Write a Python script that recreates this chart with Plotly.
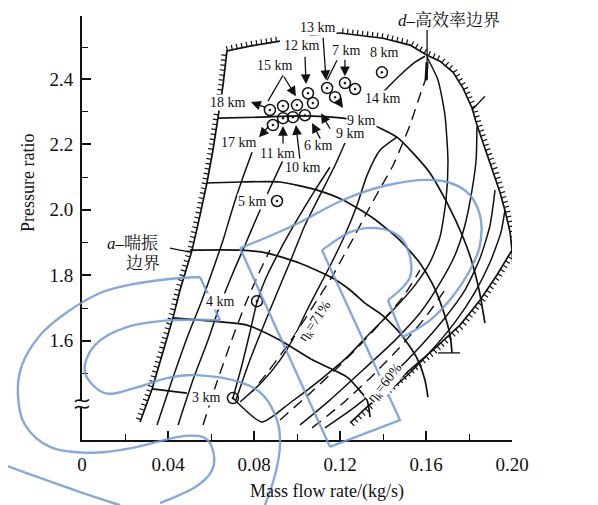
import numpy as np
import plotly.graph_objects as go

# ---------------- axes ----------------
X_RANGE = [0.0, 0.20]
Y_RANGE = [1.297, 2.592]
X_TICKS = [0, 0.04, 0.08, 0.12, 0.16, 0.20]
X_TICKTEXT = ["0", "0.04", "0.08", "0.12", "0.16", "0.20"]
X_MINOR = [0.02, 0.06, 0.10, 0.14, 0.18]
Y_TICKS = [1.6, 1.8, 2.0, 2.2, 2.4, 2.592]
Y_TICKTEXT = ["1.6", "1.8", "2.0", "2.2", "2.4", "2.5"]
Y_MINOR = [1.5, 1.7, 1.9, 2.1, 2.3, 2.496]
AXIS_BREAK_Y = [1.417, 1.397]

# ---------------- boundaries (mass flow kg/s, pressure ratio) ----------------
surge_x = [0.0270, 0.0326, 0.0386, 0.0423, 0.0456, 0.0512, 0.0549, 0.0581, 0.0609, 0.0633, 0.0656, 0.0674, 0.0781, 0.0921]
surge_y = [1.352, 1.453, 1.587, 1.670, 1.755, 1.877, 1.984, 2.082, 2.182, 2.280, 2.381, 2.485, 2.500, 2.515]
top_x = [0.1060, 0.1200]
top_y = [2.533, 2.540]
maxb_x = [0.1200, 0.1400, 0.1526, 0.1605, 0.1665, 0.1726, 0.1772, 0.1814, 0.1837, 0.1874, 0.1912, 0.1944, 0.1967, 0.1991, 0.2000]
maxb_y = [2.540, 2.524, 2.503, 2.472, 2.454, 2.420, 2.372, 2.311, 2.259, 2.188, 2.121, 2.054, 1.999, 1.932, 1.877]
choke_x = [0.2000, 0.1930, 0.1851, 0.1758, 0.1633, 0.1526, 0.1419, 0.1326, 0.1247]
choke_y = [1.877, 1.801, 1.724, 1.648, 1.572, 1.511, 1.450, 1.398, 1.349]

# ---------------- speed lines ----------------
s1_x = [0.0633, 0.0828, 0.1014, 0.1214, 0.1353, 0.1465, 0.1540, 0.1619, 0.1698, 0.1772, 0.1814, 0.1847, 0.1874]
s1_y = [2.280, 2.283, 2.287, 2.280, 2.259, 2.222, 2.173, 2.112, 2.021, 1.917, 1.840, 1.755, 1.654]
s2_x = [0.0581, 0.0735, 0.0921, 0.1093, 0.1214, 0.1353, 0.1479, 0.1572, 0.1633, 0.1679, 0.1712, 0.1721]
s2_y = [2.082, 2.085, 2.085, 2.060, 2.030, 1.975, 1.907, 1.837, 1.770, 1.694, 1.617, 1.563]
s3_x = [0.0502, 0.0735, 0.0860, 0.1014, 0.1167, 0.1247, 0.1316, 0.1395, 0.1479, 0.1558, 0.1595, 0.1609]
s3_y = [1.877, 1.877, 1.868, 1.837, 1.791, 1.755, 1.715, 1.679, 1.624, 1.547, 1.480, 1.428]
s4_x = [0.0423, 0.0549, 0.0767, 0.0921, 0.1074, 0.1233, 0.1302, 0.1326, 0.1340]
s4_y = [1.670, 1.663, 1.648, 1.602, 1.541, 1.489, 1.440, 1.419, 1.367]
s5_x = [0.0326, 0.0488]
s5_y = [1.453, 1.440]

# ---------------- cross lines (solid) ----------------
ld1_x = [0.0349, 0.0419, 0.0493, 0.0558, 0.0605, 0.0656, 0.0698, 0.0744, 0.0791]
ld1_y = [1.343, 1.480, 1.617, 1.724, 1.810, 1.907, 1.999, 2.091, 2.176]
ld2_x = [0.0447, 0.0516, 0.0586, 0.0642, 0.0698, 0.0758, 0.0814, 0.0874, 0.0935]
ld2_y = [1.343, 1.480, 1.602, 1.709, 1.801, 1.892, 1.978, 2.066, 2.152]
lda_x = [0.0702, 0.0744, 0.0781, 0.0814, 0.0851, 0.0921, 0.1000, 0.1084, 0.1153]
lda_y = [1.425, 1.526, 1.626, 1.718, 1.785, 1.877, 1.969, 2.060, 2.130]
ldb_x = [0.0716, 0.0781, 0.0842, 0.0907, 0.0967, 0.1037, 0.1107, 0.1177, 0.1223]
ldb_y = [1.419, 1.541, 1.642, 1.746, 1.840, 1.953, 2.045, 2.136, 2.204]
ldc_x = [0.0735, 0.0837, 0.0921, 0.0991, 0.1047, 0.1107, 0.1167, 0.1223, 0.1279, 0.1326, 0.1386, 0.1465]
ldc_y = [1.413, 1.474, 1.541, 1.617, 1.694, 1.770, 1.846, 1.923, 2.014, 2.106, 2.182, 2.222]
l14_x = [0.1386, 0.1479, 0.1549, 0.1595]
l14_y = [2.350, 2.411, 2.451, 2.469]
rd1_x = [0.0702, 0.0837, 0.0967, 0.1107, 0.1233, 0.1340, 0.1447, 0.1549, 0.1619, 0.1665, 0.1693, 0.1702, 0.1688, 0.1656, 0.1605]
rd1_y = [1.425, 1.352, 1.410, 1.480, 1.550, 1.624, 1.694, 1.770, 1.840, 1.917, 2.030, 2.152, 2.289, 2.396, 2.466]
rd2_x = [0.1014, 0.1153, 0.1307, 0.1447, 0.1572, 0.1665, 0.1735, 0.1781, 0.1814, 0.1833, 0.1837]
rd2_y = [1.343, 1.419, 1.511, 1.596, 1.685, 1.776, 1.862, 1.953, 2.060, 2.152, 2.253]
rd3_x = [0.1130, 0.1270, 0.1409, 0.1549, 0.1679, 0.1781, 0.1851, 0.1898, 0.1921]
rd3_y = [1.334, 1.398, 1.474, 1.566, 1.663, 1.755, 1.852, 1.953, 2.060]
rd4_x = [0.1349, 0.1488, 0.1619, 0.1735, 0.1828, 0.1898, 0.1949, 0.1967]
rd4_y = [1.407, 1.480, 1.566, 1.657, 1.749, 1.840, 1.932, 1.999]

# ---------------- dashed lines ----------------
hieff_x = [0.1605, 0.1572, 0.1526, 0.1488, 0.1447, 0.1395, 0.1326, 0.1270, 0.1214, 0.1153, 0.1084, 0.1014, 0.0940, 0.0865, 0.0791]
hieff_y = [2.411, 2.350, 2.259, 2.198, 2.136, 2.075, 1.993, 1.923, 1.856, 1.785, 1.715, 1.642, 1.572, 1.505, 1.444]
ld3_x = [0.0563, 0.0623, 0.0688, 0.0758, 0.0819, 0.0874]
ld3_y = [1.343, 1.465, 1.587, 1.709, 1.801, 1.877]
dr1_x = [0.0921, 0.1051, 0.1177, 0.1293, 0.1400, 0.1493, 0.1572]
dr1_y = [1.358, 1.434, 1.511, 1.587, 1.663, 1.734, 1.816]
dr2_x = [0.1070, 0.1209, 0.1349, 0.1479, 0.1595, 0.1688]
dr2_y = [1.334, 1.407, 1.492, 1.581, 1.670, 1.755]
hieff_top_x = [0.1605, 0.1600]
hieff_top_y = [2.451, 2.396]

# ---------------- operating points ----------------
pt_x = [0.0874, 0.0935, 0.1000, 0.1074, 0.1051, 0.0888, 0.0935, 0.0981, 0.1037, 0.1140, 0.1177, 0.1223, 0.1270, 0.1395, 0.0907, 0.0814, 0.0702]
pt_y = [2.305, 2.317, 2.320, 2.326, 2.356, 2.259, 2.280, 2.283, 2.289, 2.372, 2.344, 2.387, 2.369, 2.420, 2.027, 1.721, 1.425]

# altitude labels
alt_text = ["13 km", "12 km", "7 km", "8 km", "15 km", "18 km", "14 km", "9 km", "9 km", "17 km", "6 km", "11 km", "10 km", "5 km", "4 km", "3 km"]
alt_x = [0.1098, 0.1023, 0.1228, 0.1409, 0.0898, 0.0679, 0.1400, 0.1298, 0.1251, 0.0730, 0.1098, 0.0907, 0.1028, 0.0791, 0.0642, 0.0577]
alt_y = [2.558, 2.503, 2.488, 2.481, 2.442, 2.329, 2.341, 2.274, 2.234, 2.207, 2.198, 2.173, 2.130, 2.024, 1.721, 1.428]

# arrows: head x, head y, tail x, tail y
arr_hx = [0.1042, 0.1135, 0.1223, 0.0995, 0.0786, 0.0823, 0.0935, 0.0995, 0.1070, 0.1112, 0.1214]
arr_hy = [2.384, 2.396, 2.408, 2.347, 2.329, 2.222, 2.256, 2.259, 2.265, 2.295, 2.311]
arr_tx = [0.1037, 0.1121, 0.1223, 0.0935, 0.0860, 0.0874, 0.0935, 0.1014, 0.1112, 0.1158, 0.1186]
arr_ty = [2.472, 2.530, 2.463, 2.411, 2.311, 2.259, 2.198, 2.152, 2.213, 2.243, 2.338]

# plain leader lines: x0, y0, x1, y1
lead_x0 = [0.0935, 0.1186, 0.0409, 0.1814, 0.1656, 0.1605, 0.2000]
lead_y0 = [2.411, 2.457, 1.883, 2.305, 1.563, 2.549, 1.877]
lead_x1 = [0.0865, 0.1140, 0.0502, 0.1874, 0.1758, 0.1605, 0.2005]
lead_y1 = [2.332, 2.396, 1.871, 2.347, 1.563, 2.396, 1.792]

# boundary / region labels
reg_text = ["<i>d</i>–高效率边界", "<i>b</i>–最大转速", "边界", "<i>N</i><sub>max</sub>–最大", "转速", "<i>c</i>–堵塞边界", "<i>a</i>–喘振", "边界"]
reg_x = [0.1707, 0.2023, 0.2023, 0.2177, 0.2177, 0.2028, 0.0233, 0.0284]
reg_y = [2.579, 2.405, 2.344, 1.740, 1.657, 1.556, 1.898, 1.837]

eff_text = ["η<sub>k</sub>=71%", "η<sub>k</sub>=60%"]
eff_x = [0.1084, 0.1409]
eff_y = [1.660, 1.471]
eff_angle = [-55, -51]

# watermark ribbons (in chart units)
wm_a_x = [0.1153, 0.0735]
wm_a_y = [1.276, 1.883]
wm_b_x = [0.0735, 0.0874, 0.1014, 0.1214, 0.1419, 0.1633, 0.1781, 0.1851, 0.1851, 0.1805, 0.1726, 0.1619, 0.1493]
wm_b_y = [1.883, 1.920, 1.962, 2.030, 2.075, 2.091, 2.060, 1.984, 1.892, 1.816, 1.737, 1.663, 1.611]
wm_c_x = [0.1493, 0.1423]
wm_c_y = [1.611, 1.724]
wm_d_x = [0.1423, 0.1479, 0.1526, 0.1526, 0.1479, 0.1372, 0.1247, 0.1116]
wm_d_y = [1.724, 1.755, 1.795, 1.856, 1.917, 1.944, 1.932, 1.877]
wm_e_x = [0.1116, 0.1479, 0.1153]
wm_e_y = [1.877, 1.358, 1.276]
wm_g_x = [0.0549, 0.0395, 0.0237, 0.0084, -0.0070, -0.0195, -0.0279, -0.0298, -0.0265, -0.0149, 0.0037, 0.0237, 0.0442, 0.0563, 0.0609, 0.0605, 0.0526, 0.0363]
wm_g_y = [1.795, 1.788, 1.773, 1.746, 1.687, 1.617, 1.526, 1.434, 1.343, 1.276, 1.258, 1.273, 1.306, 1.306, 1.266, 1.205, 1.153, 1.104]
wm_h_x = [0.0549, 0.0642]
wm_h_y = [1.795, 1.663]
wm_i_x = [0.0642, 0.0423, 0.0209, 0.0060, 0.0014, 0.0107, 0.0247, 0.0395, 0.0535, 0.0735, 0.0842, 0.0907, 0.0921, 0.0898, 0.0851]
wm_i_y = [1.663, 1.663, 1.642, 1.587, 1.504, 1.440, 1.456, 1.486, 1.495, 1.474, 1.434, 1.358, 1.282, 1.190, 1.098]
wm_j_x = [-0.0381, -0.0195, -0.0009, 0.0177]
wm_j_y = [1.226, 1.181, 1.138, 1.098]

# ---------------- figure geometry ----------------
W, H = 598, 505
BODY = 8                      # default page margin of the html body
PLOT_L, PLOT_R, PLOT_T, PLOT_B = 82, 512, 16, 440   # wanted on-screen plot box
PW, PH = PLOT_R - PLOT_L, PLOT_B - PLOT_T
ML, MT = PLOT_L - BODY, PLOT_T - BODY
MR, MB = W - ML - PW, H - MT - PH
SX = PW / (X_RANGE[1] - X_RANGE[0])
SY = PH / (Y_RANGE[1] - Y_RANGE[0])

SERIF = "Liberation Serif, Times New Roman, serif"
CJK = "Liberation Serif, Noto Serif CJK SC, Noto Sans CJK SC, serif"


def px_paper(sx, sy):
    return (sx - PLOT_L) / PW, (PLOT_B - sy) / PH


def hatch(xs, ys, step=5.0, length=5.0):
    px = np.array(xs, dtype=float) * SX
    py = -np.array(ys, dtype=float) * SY
    dxs, dys = np.diff(px), np.diff(py)
    seg = np.hypot(dxs, dys)
    s = np.concatenate([[0.0], np.cumsum(seg)])
    t = np.arange(step / 2, s[-1], step)
    qx, qy = np.interp(t, s, px), np.interp(t, s, py)
    idx = np.clip(np.searchsorted(s, t) - 1, 0, len(seg) - 1)
    tx, ty = dxs[idx] / seg[idx], dys[idx] / seg[idx]
    nx, ny = ty, -tx
    hx, hy = [], []
    for a, b, c, d in zip(qx, qy, nx, ny):
        hx += [float(a / SX), float((a + c * length) / SX), None]
        hy += [float(-b / SY), float(-(b + d * length) / SY), None]
    return hx, hy


def to_paper(xs, ys):
    return ([(x - X_RANGE[0]) / (X_RANGE[1] - X_RANGE[0]) for x in xs],
            [(y - Y_RANGE[0]) / (Y_RANGE[1] - Y_RANGE[0]) for y in ys])


def smooth_path(xs, ys):
    pts = list(zip(xs, ys))
    n = len(pts)
    d = f"M{pts[0][0]:.4f},{pts[0][1]:.4f}"
    if n == 2:
        return d + f" L{pts[1][0]:.4f},{pts[1][1]:.4f}"
    for i in range(n - 1):
        p0 = pts[i - 1] if i > 0 else pts[i]
        p1, p2 = pts[i], pts[i + 1]
        p3 = pts[i + 2] if i + 2 < n else pts[i + 1]
        c1 = (p1[0] + (p2[0] - p0[0]) / 6, p1[1] + (p2[1] - p0[1]) / 6)
        c2 = (p2[0] - (p3[0] - p1[0]) / 6, p2[1] - (p3[1] - p1[1]) / 6)
        d += f" C{c1[0]:.4f},{c1[1]:.4f} {c2[0]:.4f},{c2[1]:.4f} {p2[0]:.4f},{p2[1]:.4f}"
    return d


fig = go.Figure()
BLACK = "#111111"


def add_line(xs, ys, width=1.6, dash=None, shape="spline"):
    fig.add_trace(go.Scatter(x=xs, y=ys, mode="lines", hoverinfo="skip", showlegend=False,
                             line=dict(color=BLACK, width=width, dash=dash, shape=shape, smoothing=0.6)))


# boundaries with hatching
for bx, by in [(surge_x, surge_y), (maxb_x, maxb_y), (choke_x, choke_y)]:
    add_line(bx, by, width=1.7, shape="linear")
    hx, hy = hatch(bx, by)
    fig.add_trace(go.Scatter(x=hx, y=hy, mode="lines", hoverinfo="skip", showlegend=False,
                             connectgaps=False, line=dict(color=BLACK, width=1.2)))
add_line(top_x, top_y, width=1.5, shape="linear")

# speed lines
for sx_, sy_ in [(s1_x, s1_y), (s2_x, s2_y), (s3_x, s3_y), (s4_x, s4_y), (s5_x, s5_y)]:
    add_line(sx_, sy_, width=1.7)

# cross lines
for cx, cy in [(ld1_x, ld1_y), (ld2_x, ld2_y), (lda_x, lda_y), (ldb_x, ldb_y), (ldc_x, ldc_y),
               (l14_x, l14_y), (rd1_x, rd1_y), (rd2_x, rd2_y), (rd3_x, rd3_y), (rd4_x, rd4_y)]:
    add_line(cx, cy, width=1.5)

for cx, cy in [(hieff_x, hieff_y), (ld3_x, ld3_y), (dr1_x, dr1_y), (dr2_x, dr2_y)]:
    add_line(cx, cy, width=1.4, dash="11px,7px")
add_line(hieff_top_x, hieff_top_y, width=3.0, shape="linear")

# leader lines
lx, ly = [], []
for a, b, c, d in zip(lead_x0, lead_y0, lead_x1, lead_y1):
    lx += [a, c, None]
    ly += [b, d, None]
fig.add_trace(go.Scatter(x=lx, y=ly, mode="lines", hoverinfo="skip", showlegend=False,
                         line=dict(color=BLACK, width=1.3)))

# operating points
fig.add_trace(go.Scatter(x=pt_x, y=pt_y, mode="markers", hoverinfo="skip", showlegend=False,
                         marker=dict(symbol="circle-open-dot", size=11, color=BLACK,
                                     line=dict(color=BLACK, width=1.5))))

annotations = []
for t, x, y in zip(alt_text, alt_x, alt_y):
    annotations.append(dict(x=x, y=y, xref="x", yref="y", text=t, showarrow=False,
                            font=dict(family=SERIF, size=14, color=BLACK), bgcolor="white", borderpad=0))
for hx_, hy_, tx_, ty_ in zip(arr_hx, arr_hy, arr_tx, arr_ty):
    annotations.append(dict(x=hx_, y=hy_, ax=tx_, ay=ty_, xref="x", yref="y", axref="x", ayref="y",
                            text="", showarrow=True, arrowhead=2, arrowsize=1.5, arrowwidth=1.3,
                            arrowcolor=BLACK))
for t, x, y in zip(reg_text, reg_x, reg_y):
    annotations.append(dict(x=x, y=y, xref="x", yref="y", text=t, showarrow=False,
                            font=dict(family=CJK, size=17, color=BLACK)))
for t, x, y, a in zip(eff_text, eff_x, eff_y, eff_angle):
    annotations.append(dict(x=x, y=y, xref="x", yref="y", text=t, showarrow=False, textangle=a,
                            font=dict(family=SERIF, size=14, color=BLACK), bgcolor="white", borderpad=0))
# axis titles
tx_, ty_ = px_paper(28, 183)
annotations.append(dict(x=tx_, y=ty_, xref="paper", yref="paper", xanchor="center", yanchor="middle",
                        text="Pressure ratio", textangle=-90,
                        showarrow=False, font=dict(family=SERIF, size=18, color=BLACK)))
tx_, ty_ = px_paper(327, 491)
annotations.append(dict(x=tx_, y=ty_, xref="paper", yref="paper", xanchor="center", yanchor="middle",
                        text="Mass flow rate/(kg/s)",
                        showarrow=False, font=dict(family=SERIF, size=18, color=BLACK)))

shapes = []
WM = "rgba(110,155,215,0.85)"
for wx, wy in [(wm_a_x, wm_a_y), (wm_b_x, wm_b_y), (wm_c_x, wm_c_y), (wm_d_x, wm_d_y), (wm_e_x, wm_e_y),
               (wm_g_x, wm_g_y), (wm_h_x, wm_h_y), (wm_i_x, wm_i_y), (wm_j_x, wm_j_y)]:
    px_, py_ = to_paper(wx, wy)
    if len(wx) == 3:
        path = f"M{px_[0]:.4f},{py_[0]:.4f} L{px_[1]:.4f},{py_[1]:.4f} L{px_[2]:.4f},{py_[2]:.4f}"
    else:
        path = smooth_path(px_, py_)
    shapes.append(dict(type="path", xref="paper", yref="paper", path=path, layer="above",
                       line=dict(color=WM, width=2.4)))

# axis break
_, bp = to_paper([0, 0], AXIS_BREAK_Y)
hw = 7 / PW
amp = 2.2 / PH
shapes.append(dict(type="rect", xref="paper", yref="paper", x0=-3 / PW, x1=3 / PW, y0=bp[1], y1=bp[0],
                   fillcolor="white", line=dict(width=0), layer="above"))
for yb in bp:
    shapes.append(dict(type="path", xref="paper", yref="paper", layer="above",
                       path=f"M{-hw:.4f},{yb - amp / 2:.4f} C{-hw / 3:.4f},{yb + 2 * amp:.4f} {hw / 3:.4f},{yb - 2 * amp:.4f} {hw:.4f},{yb + amp / 2:.4f}",
                       line=dict(color=BLACK, width=1.6)))

axis_common = dict(showgrid=False, zeroline=False, showline=True, linecolor=BLACK, linewidth=2,
                   ticks="inside", ticklen=9, tickwidth=1.6, tickcolor=BLACK, automargin=False,
                   tickfont=dict(family=SERIF, size=19, color=BLACK))
fig.update_layout(
    width=W, height=H, margin=dict(l=ML, r=MR, t=MT, b=MB, autoexpand=False),
    paper_bgcolor="white", plot_bgcolor="white", showlegend=False,
    annotations=annotations, shapes=shapes,
    xaxis=dict(range=X_RANGE, tickvals=X_TICKS, ticktext=X_TICKTEXT, ticklabelstandoff=6,
               minor=dict(tickmode="array", tickvals=X_MINOR, ticks="inside", ticklen=6, tickwidth=1.4,
                          tickcolor=BLACK, showgrid=False), **axis_common),
    yaxis=dict(range=Y_RANGE, tickvals=Y_TICKS, ticktext=Y_TICKTEXT, ticklabelstandoff=3,
               minor=dict(tickmode="array", tickvals=Y_MINOR, ticks="inside", ticklen=6, tickwidth=1.4,
                          tickcolor=BLACK, showgrid=False), **axis_common),
)

fig.write_html("out.html")
